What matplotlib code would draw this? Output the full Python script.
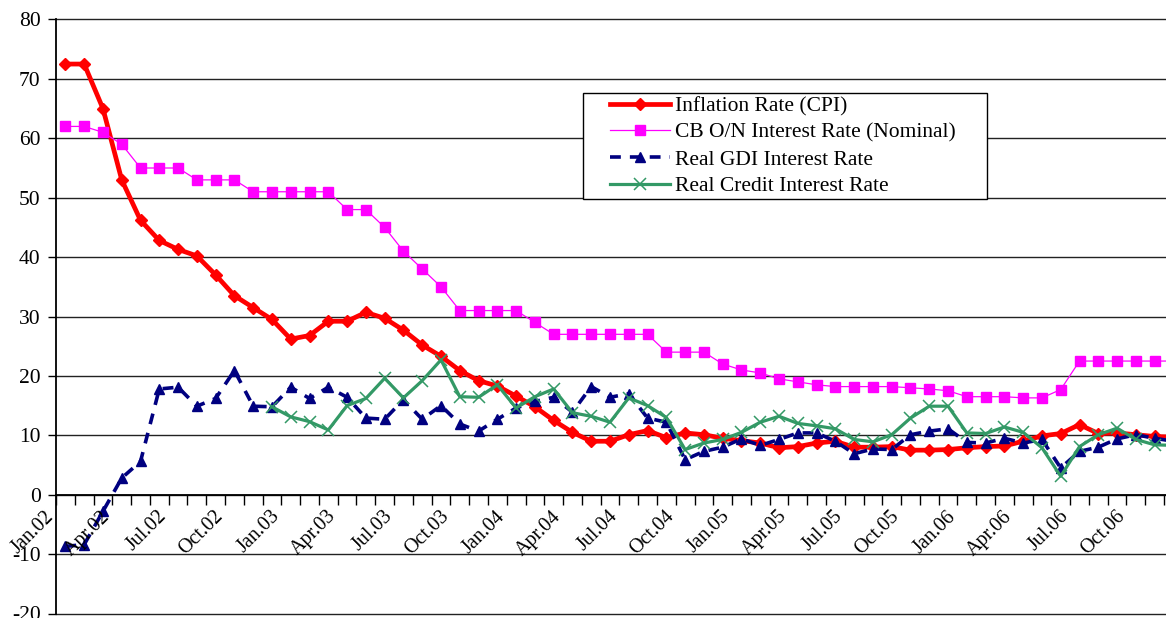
import numpy as np
import matplotlib
matplotlib.use("Agg")
import matplotlib.pyplot as plt
from matplotlib.patches import Rectangle
from matplotlib.transforms import offset_copy

plt.rcParams['font.family'] = ['Liberation Serif', 'DejaVu Serif']
plt.rcParams['axes.unicode_minus'] = False

# monthly data, Jan.02 - Dec.06
inflation = [72.5, 72.5, 65.0, 53.0, 46.2, 42.8, 41.3, 40.2, 37.0, 33.5, 31.5, 29.5,
             26.2, 26.8, 29.2, 29.2, 30.7, 29.7, 27.7, 25.2, 23.3, 20.9, 19.2, 18.3,
             16.6, 14.8, 12.5, 10.5, 9.0, 9.0, 10.1, 10.8, 9.6, 10.4, 10.1, 9.5,
             9.1, 8.7, 7.9, 8.1, 8.7, 9.0, 8.0, 8.0, 8.1, 7.5, 7.5, 7.6,
             7.9, 8.1, 8.2, 9.0, 9.9, 10.3, 11.8, 10.3, 10.4, 10.1, 9.8, 9.7]

cb_rate = [62, 62, 61, 59, 55, 55, 55, 53, 53, 53, 51, 51,
           51, 51, 51, 48, 48, 45, 41, 38, 35, 31, 31, 31,
           31, 29, 27, 27, 27, 27, 27, 27, 24, 24, 24, 22,
           21, 20.5, 19.5, 19, 18.5, 18.2, 18.2, 18.2, 18.2, 18, 17.8, 17.5,
           16.5, 16.5, 16.5, 16.3, 16.3, 17.7, 22.5, 22.5, 22.5, 22.5, 22.5, 22.5]

real_gdi = [-8.7, -8.4, -2.8, 2.8, 5.6, 17.8, 18.1, 14.9, 16.2, 20.9, 14.9, 14.8,
            18.1, 16.2, 18.1, 16.4, 12.9, 12.7, 16.0, 12.7, 15.0, 11.9, 10.7, 12.7,
            14.6, 15.7, 16.4, 13.9, 18.2, 16.4, 17.0, 12.9, 12.2, 5.9, 7.3, 8.0,
            9.4, 8.3, 9.3, 10.4, 10.4, 9.0, 6.9, 7.7, 7.6, 10.1, 10.7, 11.1,
            8.8, 8.7, 9.5, 8.7, 9.3, 4.5, 7.3, 8.0, 9.4, 10.1, 9.5, 9.0]

real_credit = [np.nan] * 11 + [
    14.8, 13.1, 12.3, 10.9, 15.0, 16.2, 19.6, 16.3, 19.2, 22.7, 16.5, 16.4, 18.5,
    14.6, 16.5, 17.8, 13.8, 13.2, 12.2, 16.3, 15.0, 13.0, 7.6, 8.7, 9.3,
    10.5, 12.2, 13.2, 12.0, 11.6, 11.1, 9.3, 8.9, 10.1, 12.9, 14.9, 14.9,
    10.4, 10.3, 11.4, 10.5, 7.9, 3.1, 8.1, 10.1, 11.2, 9.3, 8.4, 8.3]

tick_labels = ['Jan.02', 'Apr.02', 'Jul.02', 'Oct.02', 'Jan.03', 'Apr.03', 'Jul.03',
               'Oct.03', 'Jan.04', 'Apr.04', 'Jul.04', 'Oct.04', 'Jan.05', 'Apr.05',
               'Jul.05', 'Oct.05', 'Jan.06', 'Apr.06', 'Jul.06', 'Oct.06']

W, H = 1166, 618
fig = plt.figure(figsize=(W / 100, H / 100), dpi=100)
# plot area runs past the right edge (picture is cropped there)
ax = fig.add_axes([56 / W, (H - 613.5) / H, (1182.8 - 56) / W, (613.5 - 19.5) / H])

x = np.arange(len(inflation))
ax.plot(x, inflation, color='#ff0000', lw=3.4, marker='D', ms=6, label='Inflation Rate (CPI)')
ax.plot(x, cb_rate, color='#ff00ff', lw=0.9, marker='s', ms=6.5, label='CB O/N Interest Rate (Nominal)')
ax.plot(x, real_gdi, color='#000080', lw=2.6, ls=(0, (3, 2.5)), marker='^', ms=7,
        label='Real GDI Interest Rate')
ax.plot(x, real_credit, color='#339966', lw=2.3, marker='x', ms=8, mew=1.1,
        label='Real Credit Interest Rate')

ax.set_xlim(-0.5, len(inflation) - 0.5)
ax.set_ylim(-20, 80)
ax.set_yticks(np.arange(-20, 81, 10))
ax.yaxis.grid(True, color='#222222', lw=1.0)
for gl in ax.get_ygridlines():
    gl.set_clip_on(False)
ax.set_axisbelow(True)

for s in ['top', 'right']:
    ax.spines[s].set_visible(False)
ax.spines['left'].set_linewidth(1.3)
ax.spines['bottom'].set_position(('data', 0))
ax.spines['bottom'].set_linewidth(1.3)

ax.set_xticks(np.arange(-0.5, len(inflation), 1))
ax.set_xticklabels([])
ax.tick_params(axis='x', direction='out', length=7, width=1, color='black')
ax.tick_params(axis='y', direction='out', length=6, width=1, labelsize=15.5, pad=5)

lab_tr = offset_copy(ax.transData, fig=fig, x=-14, y=-19, units='dots')
for i, lab in enumerate(tick_labels):
    ax.text(i * 3, 0, lab, transform=lab_tr, rotation=45, ha='right', va='center',
            rotation_mode='anchor', fontsize=14.5)

# legend with its own box
leg = fig.legend(loc='upper left', bbox_to_anchor=(610 / W, 1 - 96 / H),
                 frameon=False, fontsize=15.5, borderpad=0, borderaxespad=0,
                 handlelength=2.8, handletextpad=0.2, labelspacing=0.31)
fig.add_artist(Rectangle((583 / W, 1 - 199 / H), (987 - 583) / W, (199 - 93) / H,
                         transform=fig.transFigure, facecolor='white', edgecolor='black',
                         lw=1.0, zorder=leg.get_zorder() - 0.1))

fig.savefig('out.png', dpi=100)
